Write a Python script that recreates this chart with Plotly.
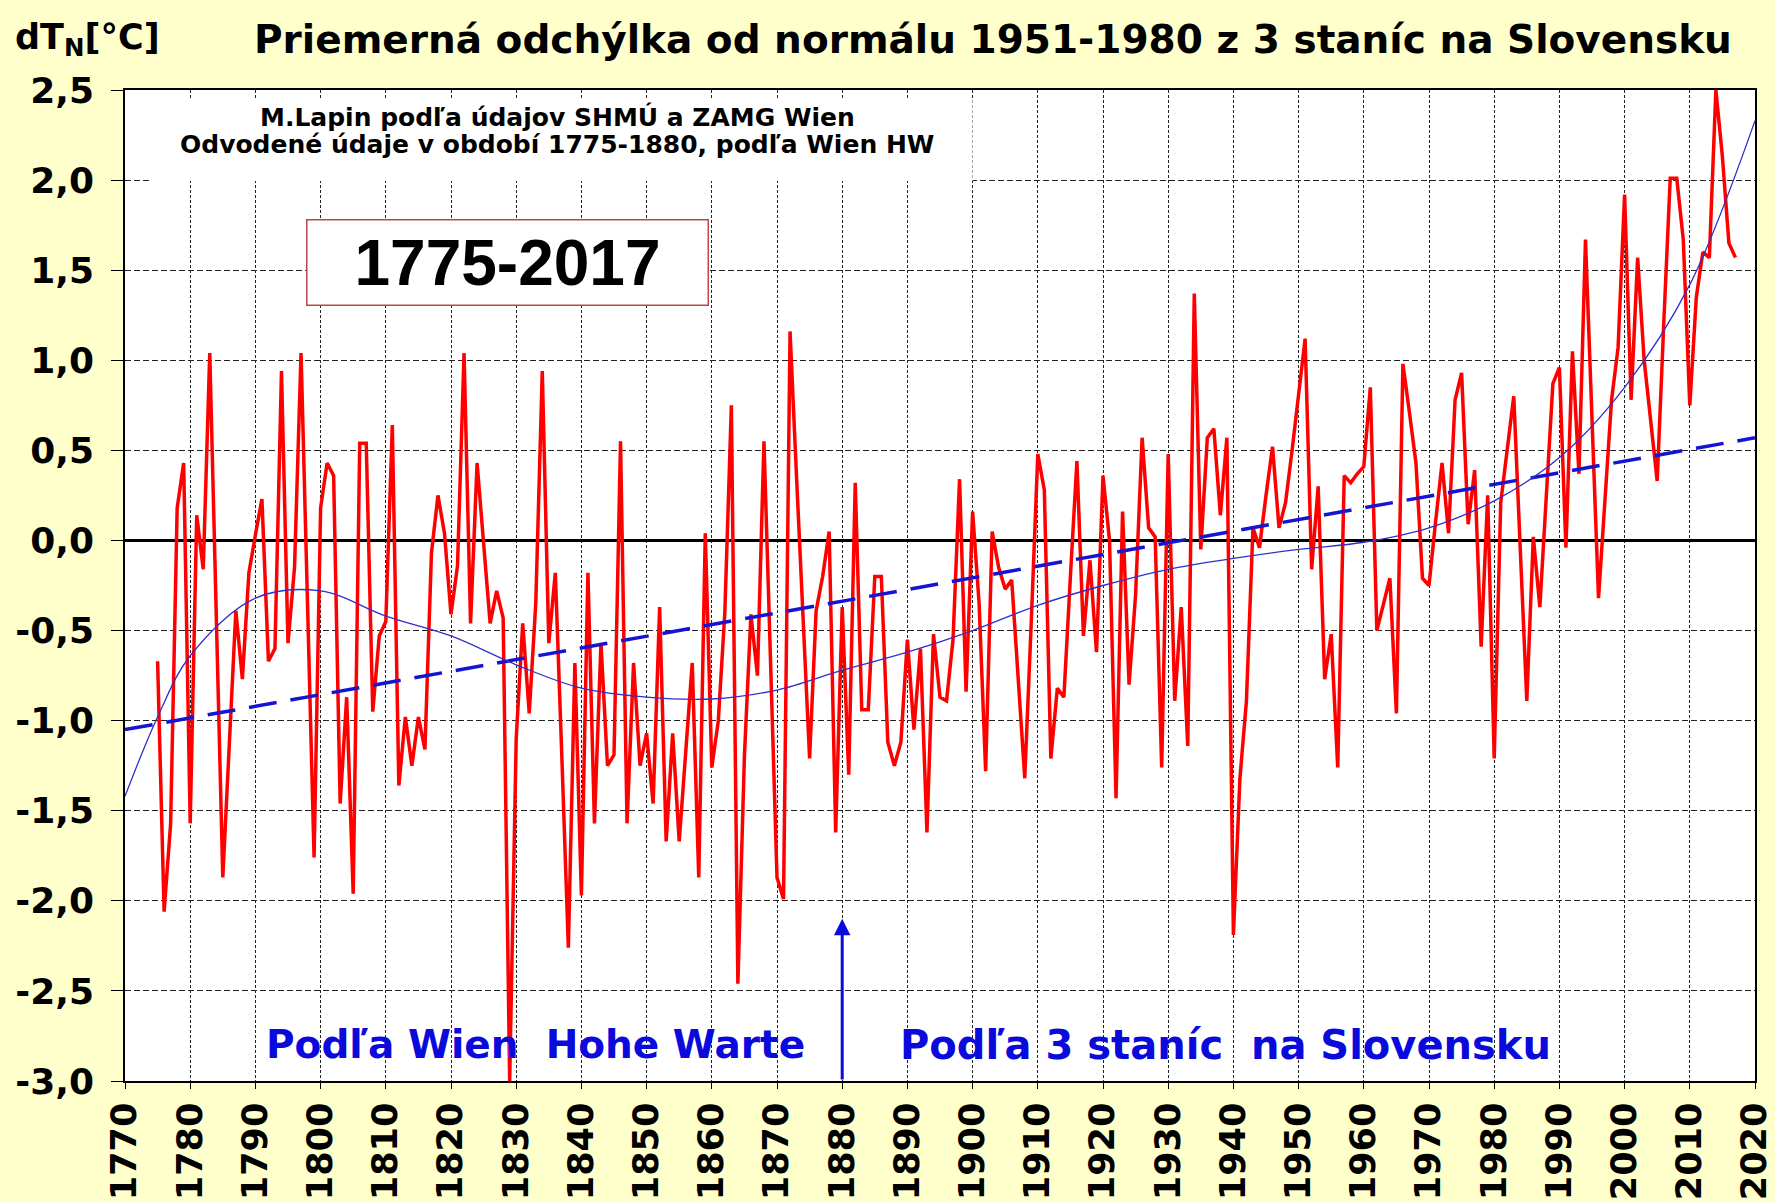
import plotly.graph_objects as go

# ---------------- data ----------------
first_year = 1775
anomaly = [
    -0.67, -2.06, -1.57, 0.18, 0.43, -1.57, 0.14, -0.16, 1.04, -0.41,   # 1775-1784
    -1.87, -1.13, -0.39, -0.77, -0.18, 0.03, 0.23, -0.67, -0.60, 0.94,  # 1785-1794
    -0.57, -0.15, 1.04, -0.36, -1.76, 0.18, 0.43, 0.36, -1.46, -0.87,   # 1795-1804
    -1.96, 0.54, 0.54, -0.95, -0.53, -0.45, 0.64, -1.36, -0.98, -1.25,  # 1805-1814
    -0.98, -1.16, -0.07, 0.25, 0.04, -0.41, -0.14, 1.04, -0.46, 0.43,   # 1815-1824
    -0.04, -0.46, -0.28, -0.43, -3.00, -1.10, -0.46, -0.96, -0.35, 0.94,  # 1825-1834
    -0.57, -0.18, -1.20, -2.26, -0.68, -1.97, -0.18, -1.57, -0.57, -1.25,  # 1835-1844
    -1.19, 0.55, -1.57, -0.68, -1.25, -1.07, -1.46, -0.37, -1.67, -1.07,   # 1845-1854
    -1.67, -1.17, -0.68, -1.87, 0.04, -1.26, -1.00, -0.40, 0.75, -2.46,    # 1855-1864
    -1.20, -0.41, -0.75, 0.55, -0.65, -1.87, -1.99, 1.16, 0.35, -0.45,     # 1865-1874
    -1.21, -0.39, -0.20, 0.05, -1.62, -0.37, -1.30, 0.32, -0.94, -0.94,    # 1875-1884
    -0.20, -0.20, -1.12, -1.25, -1.12, -0.55, -1.05, -0.60, -1.62, -0.52,  # 1885-1894
    -0.87, -0.89, -0.55, 0.34, -0.84, 0.16, -0.35, -1.28, 0.05, -0.15,     # 1895-1904
    -0.27, -0.22, -0.75, -1.32, -0.45, 0.48, 0.28, -1.21, -0.82, -0.87,    # 1905-1914
    -0.20, 0.44, -0.53, -0.11, -0.62, 0.36, 0.00, -1.43, 0.16, -0.80,      # 1915-1924
    -0.30, 0.57, 0.07, 0.02, -1.26, 0.48, -0.89, -0.37, -1.14, 1.37,       # 1925-1934
    -0.05, 0.57, 0.62, 0.14, 0.57, -2.19, -1.32, -0.89, 0.07, -0.04,       # 1935-1944
    0.25, 0.52, 0.07, 0.21, 0.50, 0.80, 1.12, -0.16, 0.30, -0.77,          # 1945-1954
    -0.52, -1.26, 0.36, 0.32, 0.37, 0.41, 0.85, -0.50, -0.36, -0.21,       # 1955-1964
    -0.96, 0.98, 0.71, 0.43, -0.21, -0.25, 0.10, 0.43, 0.04, 0.78,         # 1965-1974
    0.93, 0.09, 0.39, -0.59, 0.25, -1.21, 0.21, 0.50, 0.80, -0.05,         # 1975-1984
    -0.89, 0.02, -0.37, 0.25, 0.87, 0.96, -0.04, 1.05, 0.37, 1.67,         # 1985-1994
    0.70, -0.32, 0.23, 0.78, 1.07, 1.92, 0.78, 1.57, 1.00, 0.65,           # 1995-2004
    0.33, 1.20, 2.01, 2.01, 1.67, 0.75, 1.35, 1.60, 1.57, 2.50,            # 2005-2014
    2.13, 1.65, 1.57,                                                      # 2015-2017
]
years = list(range(first_year, first_year + len(anomaly)))

# polynomial trend
poly_years = [1770, 1775, 1780, 1790, 1800, 1810, 1820, 1830, 1840, 1850, 1860,
              1870, 1880, 1890, 1900, 1910, 1920, 1930, 1940, 1950, 1960, 1970,
              1980, 1990, 2000, 2010, 2020]
poly_vals = [-1.42, -0.98, -0.64, -0.32, -0.28, -0.42, -0.53, -0.69, -0.82, -0.87,
             -0.88, -0.83, -0.72, -0.62, -0.50, -0.36, -0.25, -0.16, -0.10, -0.05,
             -0.01, 0.07, 0.22, 0.46, 0.85, 1.42, 2.33]

# linear trend end points
lin_years = [1770, 2020]
lin_vals = [-1.05, 0.57]

x_ticks = list(range(1770, 2021, 10))
x_tick_labels = [str(v) for v in x_ticks]
y_ticks = [2.5, 2.0, 1.5, 1.0, 0.5, 0.0, -0.5, -1.0, -1.5, -2.0, -2.5, -3.0]
y_tick_labels = ["2,5", "2,0", "1,5", "1,0", "0,5", "0,0", "-0,5", "-1,0", "-1,5", "-2,0", "-2,5", "-3,0"]

BOLD = "DejaVu Sans"
BLUE = "#0A0ADC"

fig = go.Figure()
fig.add_trace(go.Scatter(x=years, y=anomaly, mode="lines",
                         line=dict(color="#FF0000", width=3.5), showlegend=False))
fig.add_trace(go.Scatter(x=lin_years, y=lin_vals, mode="lines",
                         line=dict(color="#1414D2", width=3.5, dash="28px,14px"), showlegend=False))
fig.add_trace(go.Scatter(x=poly_years, y=poly_vals, mode="lines",
                         line=dict(color="#3030C8", width=1.3, shape="spline", smoothing=1.0),
                         showlegend=False))

# white area behind the credits text
fig.add_shape(type="rect", xref="x", yref="y", x0=1773.9, x1=1900, y0=1.995, y1=2.455,
              fillcolor="white", line=dict(width=0), layer="above")

annotations = [
    dict(text="<b>dT<sub>N</sub>[°C]</b>", xref="paper", yref="paper", x=-0.0685, y=1.051,
         xanchor="left", yanchor="middle", showarrow=False,
         font=dict(family=BOLD, size=35, color="black")),
    dict(text="<b>Priemerná odchýlka od normálu 1951-1980 z 3 staníc na Slovensku</b>",
         xref="paper", yref="paper", x=0.5325, y=1.051, xanchor="center", yanchor="middle",
         showarrow=False, font=dict(family=BOLD, size=39, color="black")),
    dict(text="<b>M.Lapin podľa údajov SHMÚ a ZAMG Wien</b>", xref="x", yref="y",
         x=1836.3, y=2.35, showarrow=False, font=dict(family=BOLD, size=25, color="black")),
    dict(text="<b>Odvodené údaje v období 1775-1880, podľa Wien HW</b>", xref="x", yref="y",
         x=1836.3, y=2.195, showarrow=False, font=dict(family=BOLD, size=25, color="black")),
    dict(text="<b>1775-2017</b>", xref="x", yref="y", x=1828.6, y=1.54, showarrow=False,
         font=dict(family="Liberation Sans", size=64, color="black"),
         bgcolor="white", bordercolor="#B84848", borderwidth=1.5, width=398, height=82),
    dict(text="<b>Podľa Wien&nbsp; Hohe Warte</b>", xref="x", yref="y", x=1832.9, y=-2.8,
         showarrow=False, font=dict(family=BOLD, size=39, color=BLUE)),
    dict(text="<b>Podľa 3 staníc&nbsp; na Slovensku</b>", xref="x", yref="y", x=1938.8, y=-2.8,
         showarrow=False, font=dict(family=BOLD, size=40, color=BLUE)),
    dict(text="", x=1880, y=-2.1, ax=1880, ay=-3.0, xref="x", yref="y", axref="x", ayref="y",
         showarrow=True, arrowhead=2, arrowsize=1.1, arrowwidth=3, arrowcolor=BLUE),
]

fig.update_layout(
    width=1775, height=1202,
    margin=dict(l=125, r=20, t=90, b=121),
    paper_bgcolor="#FFFFCC", plot_bgcolor="white",
    annotations=annotations,
    xaxis=dict(range=[1770, 2020], tickmode="array", tickvals=x_ticks, ticktext=x_tick_labels,
               tickangle=-90, tickfont=dict(family=BOLD, size=35, color="black", weight="bold"),
               showgrid=True, gridcolor="#222222", gridwidth=1, griddash="3px,2px",
               showline=True, linecolor="black", linewidth=1.5, mirror=True,
               ticks="outside", ticklen=6, tickcolor="black", zeroline=False,
               ticklabeloverflow="allow", automargin=False),
    yaxis=dict(range=[-3.0, 2.5], tickmode="array", tickvals=y_ticks, ticktext=y_tick_labels,
               tickfont=dict(family=BOLD, size=36, color="black", weight="bold"),
               showgrid=True, gridcolor="#222222", gridwidth=1, griddash="6px,3px",
               showline=True, linecolor="black", linewidth=1.5, mirror=True,
               ticks="outside", ticklen=12, tickcolor="black", ticklabelstandoff=10,
               zeroline=True, zerolinecolor="black", zerolinewidth=2.5, automargin=False),
)

fig.write_html("out.html", config={"displayModeBar": False},
               post_script="document.body.style.margin='0px';document.body.style.overflow='hidden';")
